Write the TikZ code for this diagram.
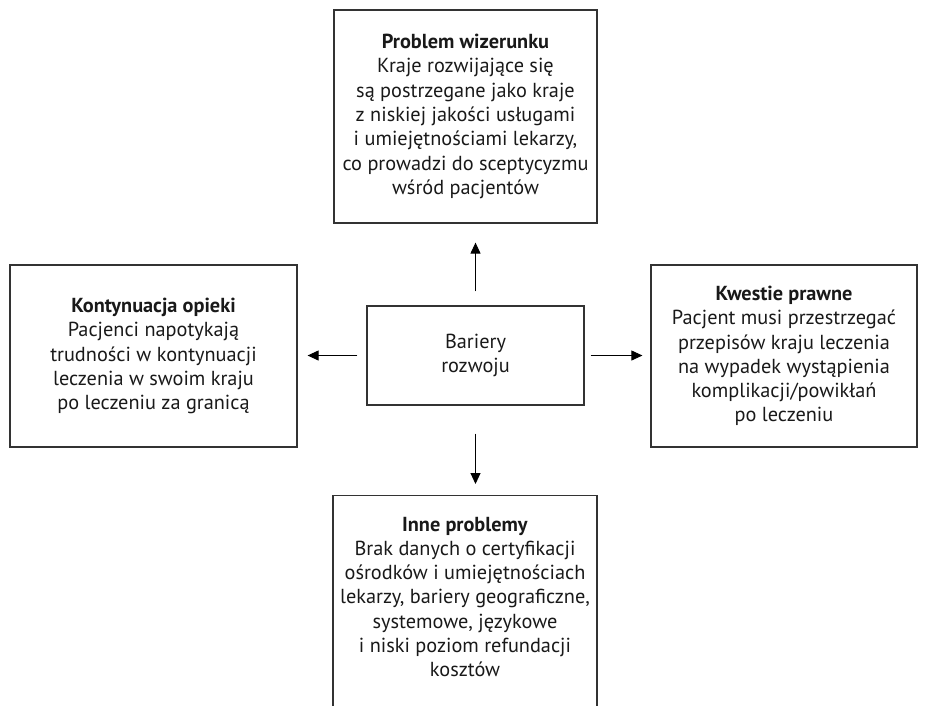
\documentclass[tikz,border=0pt]{standalone}
\usepackage{fontspec}
\setmainfont{PT Sans}
\usetikzlibrary{arrows.meta}
\tikzset{
  box/.style={draw=black!80, line width=1.2pt, align=center, inner sep=0pt,
    font=\fontsize{20.3}{24.3}\selectfont, text=black!90},
  arr/.style={-{Triangle[length=11pt,width=10pt]}, line width=1pt}
}
\begin{document}
\begin{tikzpicture}[x=1pt,y=-1pt]
\useasboundingbox (0,0) rectangle (926,705);
\clip (0,0) rectangle (926,705);

\node[box, minimum width=263pt, minimum height=213pt] (wiz) at (465.5,116.5)
  {\textbf{Problem wizerunku}\\Kraje rozwijające się\\są postrzegane jako kraje\\z niskiej jakości usługami\\i umiejętnościami lekarzy,\\co prowadzi do sceptycyzmu\\wśród pacjentów};
\node[box, minimum width=287pt, minimum height=182pt] (opieka) at (153.5,356)
  {\textbf{Kontynuacja opieki}\\Pacjenci napotykają\\trudności w kontynuacji\\leczenia w swoim kraju\\po leczeniu za granicą};
\node[box, minimum width=266pt, minimum height=182pt] (prawo) at (784,356)
  {\textbf{Kwestie prawne}\\Pacjent musi przestrzegać\\przepisów kraju leczenia\\na wypadek wystąpienia\\komplikacji/powikłań\\po leczeniu};
\node[box, minimum width=217pt, minimum height=99pt] (bariery) at (475.5,355.5)
  {Bariery\\rozwoju};
% dolna ramka wychodzi poza obrazek
\node[box, minimum width=264pt, minimum height=220pt, anchor=north] (inne) at (465,495) {};
\node[box, draw=none] (inneTxt) at (465,597)
  {\textbf{Inne problemy}\\Brak danych o certyfikacji\\ośrodków i umiejętnościach\\lekarzy, bariery geograficzne,\\systemowe, językowe\\i niski poziom refundacji\\kosztów};

\draw[arr, shorten <=14pt, shorten >=19pt] (bariery.north) -- (bariery.north |- wiz.south);
\draw[arr, shorten <=28pt, shorten >=11pt] (bariery.south) -- (bariery.south |- inne.north);
\draw[arr, shorten <=9pt, shorten >=10pt] (bariery.west) -- (bariery.west -| opieka.east);
\draw[arr, shorten <=6pt, shorten >=8pt] (bariery.east) -- (bariery.east -| prawo.west);
\end{tikzpicture}
\end{document}
